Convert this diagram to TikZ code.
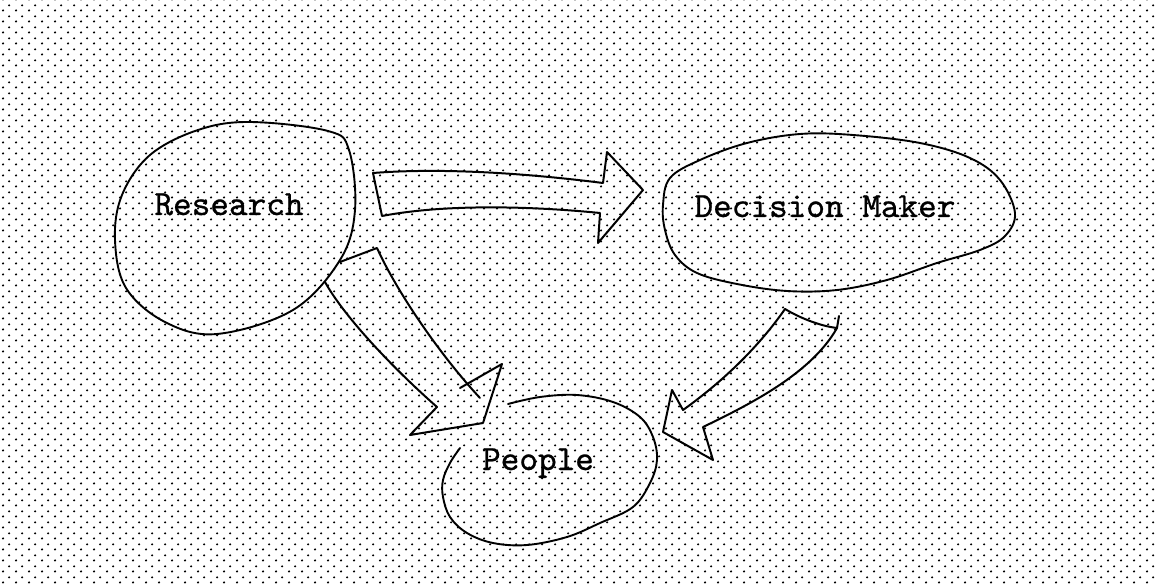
\documentclass[tikz,border=0pt]{standalone}
\usepackage{fontspec}
\newfontfamily\tw{lmmono10-regular.otf}[RawFeature={embolden=0.7}]
\usetikzlibrary{patterns}
\pgfdeclarepatternformonly{bgdots}{\pgfpoint{0pt}{0pt}}{\pgfpoint{12.6pt}{10.6pt}}{\pgfpoint{12.6pt}{10.6pt}}{%
  \pgfpathcircle{\pgfpoint{3.15pt}{2.65pt}}{1.2pt}%
  \pgfpathcircle{\pgfpoint{9.45pt}{7.95pt}}{1.2pt}%
  \pgfusepath{fill}}
\begin{document}
\begin{tikzpicture}[x=1pt,y=-1pt,line join=round,line cap=round,
  lbl/.style={font=\tw\fontsize{35.5}{40}\selectfont,inner sep=0pt,anchor=base},
  blob/.style={draw,line width=1.9pt},
  barrow/.style={draw,line width=2pt}]
\fill[white] (0,0) rectangle (1157,585);
\fill[pattern=bgdots] (0,0) rectangle (1157,585);
\useasboundingbox (0,0) rectangle (1157,585);

% labels
\node[lbl] (research) at (229,215) {Research};
\node[lbl] (dm) at (825,217) {Decision Maker};
\node[lbl] (people) at (538,470) {People};

% blobs
\draw[blob] plot[smooth cycle,tension=0.6] coordinates {(250,122) (328,131) (349,150) (355,210) (340,260) (293,310) (217,334) (165,322) (126,288) (115,240) (122,195) (150,155) (198,130)};
\draw[blob] plot[smooth cycle,tension=0.6] coordinates {(670,178) (700,160) (747,143) (800,134) (853,135) (920,143) (970,158) (1000,180) (1015,213) (1005,236) (980,250) (937,263) (887,280) (837,290) (787,291) (737,284) (697,273) (675,255) (665,230) (663,205)};
\draw[blob] plot[smooth,tension=0.6] coordinates {(508,404) (540,397) (577,395) (613,402) (640,417) (653,437) (657,460) (650,483) (633,507) (600,523) (567,537) (527,545) (493,543) (467,533) (450,517) (443,497) (443,480) (450,463) (460,448)};

% Research -> Decision Maker
\draw[barrow] (373,173) .. controls (450,167) and (540,175) .. (603,183) -- (607,152) -- (643,190) -- (598,243) -- (600,213) .. controls (540,207) and (450,203) .. (382,216) -- cycle;

% Research -> People
\draw[barrow] (340,262) -- (377,248) .. controls (397,292) and (440,355) .. (480,398);
\draw[barrow] (325,282) .. controls (345,318) and (395,370) .. (437,407) -- (410,435) -- (483,423) -- (502,364) -- (460,388);

% Decision Maker -> People
\draw[barrow] (785,309) .. controls (800,318) and (820,326) .. (837,328) -- (839,316);
\draw[barrow] (785,309) .. controls (760,345) and (725,380) .. (683,410) -- (672,390) -- (663,432) -- (713,460) -- (703,427) .. controls (755,402) and (812,372) .. (837,328);
\end{tikzpicture}
\end{document}
